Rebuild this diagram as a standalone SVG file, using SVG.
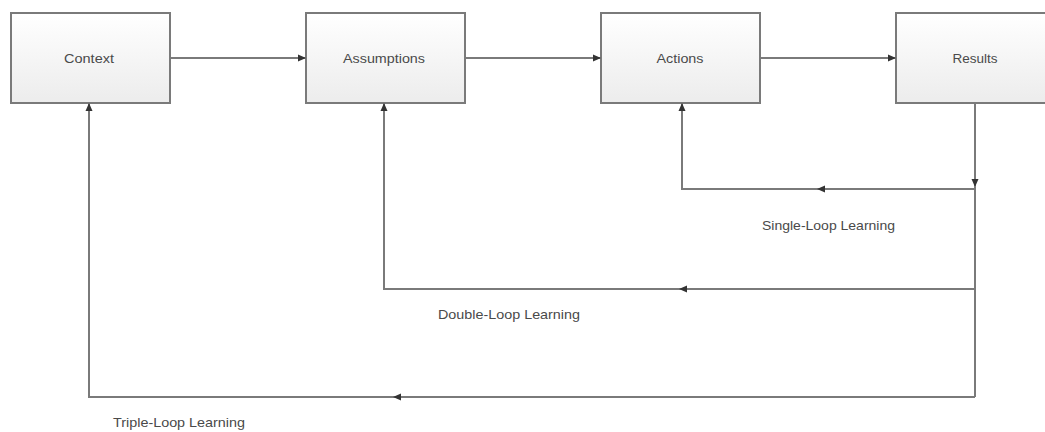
<svg xmlns="http://www.w3.org/2000/svg" width="1045" height="432" viewBox="0 0 1045 432">
<defs>
<linearGradient id="g" x1="0" y1="0" x2="0" y2="1">
<stop offset="0" stop-color="#ffffff"/>
<stop offset="1" stop-color="#ececec"/>
</linearGradient>
<marker id="ah" markerWidth="8" markerHeight="8" refX="7" refY="4" orient="auto" markerUnits="userSpaceOnUse">
<path d="M0,0.5 L8,4 L0,7.5 Z" fill="#333"/>
</marker>
</defs>
<style>
.box{fill:url(#g);stroke:#7a7a7a;stroke-width:2}
.lbl{font-family:"Liberation Sans",Arial,sans-serif;font-size:13px;fill:#4a4a4a;text-anchor:middle;dominant-baseline:central}
.cap{font-family:"Liberation Sans",Arial,sans-serif;font-size:13px;fill:#4a4a4a;dominant-baseline:central}
.ln{fill:none;stroke:#7a7a7a;stroke-width:2}
.arr{fill:none;stroke:#7a7a7a;stroke-width:2;marker-end:url(#ah)}
.mid{fill:#333}
</style>
<rect width="1045" height="432" fill="#ffffff"/>
<g id="context"><rect class="box" x="11" y="13" width="159" height="90"/><text class="lbl" x="89" y="58" textLength="50" lengthAdjust="spacingAndGlyphs">Context</text></g>
<g id="assumptions"><rect class="box" x="306" y="13" width="159" height="90"/><text class="lbl" x="384" y="58" textLength="82" lengthAdjust="spacingAndGlyphs">Assumptions</text></g>
<g id="actions"><rect class="box" x="601" y="13" width="159" height="90"/><text class="lbl" x="680" y="58" textLength="47" lengthAdjust="spacingAndGlyphs">Actions</text></g>
<g id="results"><rect class="box" x="896" y="13" width="170" height="90"/><text class="lbl" x="975" y="58" textLength="45" lengthAdjust="spacingAndGlyphs">Results</text></g>
<g id="connectors">
<line class="arr" x1="171" y1="58" x2="305" y2="58"/>
<line class="arr" x1="466" y1="58" x2="600" y2="58"/>
<line class="arr" x1="761" y1="58" x2="895" y2="58"/>
<line class="arr" x1="975" y1="104" x2="975" y2="186"/>
<line class="ln" x1="975" y1="186" x2="975" y2="397"/>
<polyline class="arr" points="975,189 682,189 682,104"/>
<polyline class="arr" points="975,289 384,289 384,104"/>
<polyline class="arr" points="975,397 89,397 89,104"/>
<path class="mid" d="M817,189 L825,185.5 L825,192.5 Z"/>
<path class="mid" d="M679,289 L687,285.5 L687,292.5 Z"/>
<path class="mid" d="M393,397 L401,393.5 L401,400.5 Z"/>
</g>
<g id="labels">
<text class="cap" x="762" y="225" textLength="133" lengthAdjust="spacingAndGlyphs">Single-Loop Learning</text>
<text class="cap" x="438" y="314" textLength="142" lengthAdjust="spacingAndGlyphs">Double-Loop Learning</text>
<text class="cap" x="113" y="422" textLength="132" lengthAdjust="spacingAndGlyphs">Triple-Loop Learning</text>
</g>
</svg>
